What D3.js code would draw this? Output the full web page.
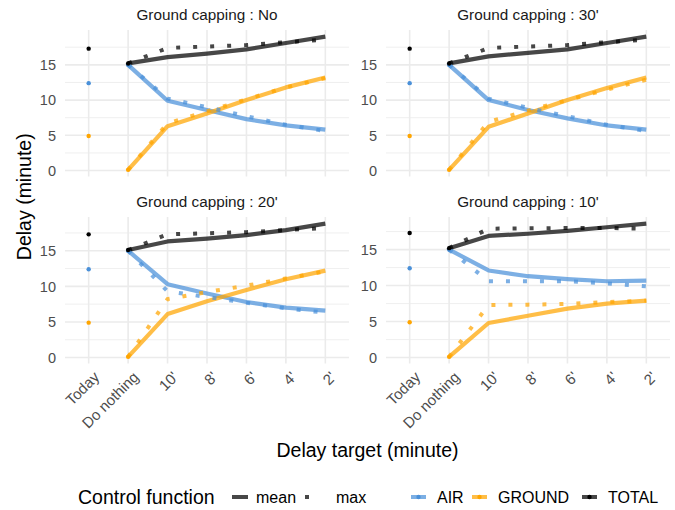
<!DOCTYPE html>
<html>
<head>
<meta charset="utf-8">
<script src="https://cdn.jsdelivr.net/npm/d3@7"></script>
<style>
  body { margin: 0; background: #fff; }
  svg { font-family: "Liberation Sans", Arial, sans-serif; }
</style>
</head>
<body>
<svg id="chart" width="675" height="510"></svg>
<script>
// categories and facets
const categories = ["Today", "Do nothing", "10'", "8'", "6'", "4'", "2'"];
const targets = ["Do nothing", "10'", "8'", "6'", "4'", "2'"];
const panels = ["No", "30'", "20'", "10'"];
const series = ["AIR", "GROUND", "TOTAL"];
const seriesColors = ["#4a90d9", "#ffa500", "#000000"];

// reference points (same for every panel): AIR, GROUND, TOTAL
const todayValues = [12.4, 4.9, 17.3];

// mean of the control function, values along targets
const airMean = {
  "No":  [15.0, 9.9, 8.6, 7.3, 6.4, 5.8],
  "30'": [15.0, 10.0, 8.6, 7.4, 6.4, 5.8],
  "20'": [15.0, 10.3, 9.0, 7.8, 7.0, 6.6],
  "10'": [15.0, 12.1, 11.3, 10.9, 10.6, 10.7]
};
const groundMean = {
  "No":  [0.1, 6.3, 8.1, 10.0, 11.8, 13.2],
  "30'": [0.1, 6.2, 8.1, 10.0, 11.7, 13.2],
  "20'": [0.1, 6.1, 7.9, 9.5, 11.0, 12.2],
  "10'": [0.1, 4.8, 5.8, 6.8, 7.5, 7.9]
};
const totalMean = {
  "No":  [15.2, 16.1, 16.6, 17.2, 18.1, 19.0],
  "30'": [15.2, 16.2, 16.7, 17.2, 18.1, 19.0],
  "20'": [15.1, 16.3, 16.7, 17.2, 17.9, 18.8],
  "10'": [15.2, 16.9, 17.2, 17.6, 18.1, 18.6]
};

// max of the control function
const airMax = {
  "No":  [15.0, 10.2, 9.0, 7.7, 6.5, 5.6],
  "30'": [15.0, 10.2, 8.9, 7.7, 6.5, 5.6],
  "20'": [15.0, 9.3, 8.5, 7.7, 6.9, 6.3],
  "10'": [15.0, 10.6, 10.6, 10.6, 10.3, 9.9]
};
const groundMax = {
  "No":  [0.1, 6.7, 8.4, 10.1, 11.8, 13.1],
  "30'": [0.1, 6.9, 8.5, 10.0, 11.5, 12.9],
  "20'": [0.1, 8.2, 9.2, 10.1, 11.1, 12.1],
  "10'": [0.1, 7.3, 7.35, 7.45, 7.7, 7.9]
};
const totalMax = {
  "No":  [15.2, 17.4, 17.6, 17.8, 18.2, 18.6],
  "30'": [15.2, 17.4, 17.6, 17.8, 18.2, 18.6],
  "20'": [15.1, 17.3, 17.45, 17.6, 17.9, 18.2],
  "10'": [15.2, 17.9, 17.95, 18.0, 18.0, 17.9]
};

const meanBySeries = [airMean, groundMean, totalMean];
const maxBySeries = [airMax, groundMax, totalMax];

const svg = d3.select("#chart");

// panel boxes
const colX = [65, 386];
const rowY = [30, 217];
const panelW = 284, panelH = 146.5;

const gridColor = "#ebebeb";

panels.forEach((p, pi) => {
  const px = colX[pi % 2], py = rowY[Math.floor(pi / 2)];
  const g = svg.append("g").attr("transform", `translate(${px},${py})`);

  const x = d3.scalePoint().domain(categories).range([0, panelW]).padding(0.6);

  // free y scale with 5% expansion
  let vals = todayValues.slice();
  series.forEach((s, si) => {
    vals = vals.concat(meanBySeries[si][p], maxBySeries[si][p]);
  });
  const lo = d3.min(vals), hi = d3.max(vals), r = hi - lo;
  const y = d3.scaleLinear().domain([lo - 0.05 * r, hi + 0.05 * r]).range([panelH, 0]);

  const major = y.ticks(5);
  const step = major[1] - major[0];
  const minor = [major[0] - step / 2].concat(major.map(t => t + step / 2))
    .filter(t => t > y.domain()[0] && t < y.domain()[1]);

  g.selectAll(".minor").data(minor).enter().append("line")
    .attr("x1", 0).attr("x2", panelW)
    .attr("y1", d => y(d)).attr("y2", d => y(d))
    .attr("stroke", gridColor).attr("stroke-width", 0.8);
  g.selectAll(".major").data(major).enter().append("line")
    .attr("x1", 0).attr("x2", panelW)
    .attr("y1", d => y(d)).attr("y2", d => y(d))
    .attr("stroke", gridColor).attr("stroke-width", 1.6);
  g.selectAll(".vgrid").data(categories).enter().append("line")
    .attr("x1", d => x(d)).attr("x2", d => x(d))
    .attr("y1", 0).attr("y2", panelH)
    .attr("stroke", gridColor).attr("stroke-width", 1.6);

  // y tick labels
  g.selectAll(".ylab").data(major).enter().append("text")
    .attr("x", -9).attr("y", d => y(d)).attr("dy", "0.36em")
    .attr("text-anchor", "end").attr("font-size", "14.5px").attr("fill", "#4d4d4d")
    .text(d => d);

  // strip title
  g.append("text")
    .attr("x", panelW / 2).attr("y", -10)
    .attr("text-anchor", "middle").attr("font-size", "15.3px").attr("fill", "#1a1a1a")
    .text(`Ground capping : ${p}`);

  const line = d3.line().x((d, i) => x(targets[i])).y(d => y(d));

  // mean lines
  series.forEach((s, si) => {
    g.append("path").datum(meanBySeries[si][p])
      .attr("d", line).attr("fill", "none")
      .attr("stroke", seriesColors[si]).attr("stroke-opacity", 0.72)
      .attr("stroke-width", 4.2).attr("stroke-linejoin", "round");
  });
  // max lines, dotted
  series.forEach((s, si) => {
    g.append("path").datum(maxBySeries[si][p])
      .attr("d", line).attr("fill", "none")
      .attr("stroke", seriesColors[si]).attr("stroke-opacity", 0.72)
      .attr("stroke-width", 4).attr("stroke-dasharray", "4 13");
  });
  // points for Today and Do nothing
  series.forEach((s, si) => {
    g.append("circle").attr("cx", x("Today")).attr("cy", y(todayValues[si]))
      .attr("r", 2.2).attr("fill", seriesColors[si]);
    g.append("circle").attr("cx", x("Do nothing")).attr("cy", y(meanBySeries[si][p][0]))
      .attr("r", 2.2).attr("fill", seriesColors[si]);
  });

  // x tick labels on bottom row only
  if (pi >= 2) {
    g.selectAll(".xlab").data(categories).enter().append("text")
      .attr("transform", d => `translate(${x(d) + 4},${panelH + 7}) rotate(-45)`)
      .attr("dy", "0.71em")
      .attr("text-anchor", "end").attr("font-size", "15px").attr("fill", "#4d4d4d")
      .text(d => d);
  }
});

// axis titles
const plotLeft = colX[0], plotRight = colX[1] + panelW;
svg.append("text")
  .attr("x", (plotLeft + plotRight) / 2).attr("y", 457)
  .attr("text-anchor", "middle").attr("font-size", "19.5px").attr("fill", "#000")
  .text("Delay target (minute)");
svg.append("text")
  .attr("transform", `translate(31,${(rowY[0] + rowY[1] + panelH) / 2}) rotate(-90)`)
  .attr("text-anchor", "middle").attr("font-size", "19.5px").attr("fill", "#000")
  .text("Delay (minute)");

// legend
const ly = 497;
const leg = svg.append("g");
leg.append("text").attr("x", 78).attr("y", ly).attr("dy", "0.36em")
  .attr("font-size", "19.5px").attr("fill", "#000").text("Control function");

const fnLabels = ["mean", "max"];
const fnKeyX = [232, 305];
fnLabels.forEach((f, i) => {
  const k = leg.append("g").attr("transform", `translate(${fnKeyX[i]},${ly})`);
  k.append("line").attr("x1", 0).attr("x2", 16).attr("y1", 0).attr("y2", 0)
    .attr("stroke", "#000").attr("stroke-opacity", 0.72).attr("stroke-width", 4)
    .attr("stroke-dasharray", i === 0 ? null : "4 13");
  k.append("text").attr("x", i === 0 ? 24 : 31).attr("dy", "0.36em")
    .attr("font-size", "16px").attr("fill", "#000").text(f);
});

const seriesKeyX = [411, 472, 582];
series.forEach((s, si) => {
  const k = leg.append("g").attr("transform", `translate(${seriesKeyX[si]},${ly})`);
  k.append("line").attr("x1", 0).attr("x2", 15).attr("y1", 0).attr("y2", 0)
    .attr("stroke", seriesColors[si]).attr("stroke-opacity", 0.72).attr("stroke-width", 4);
  k.append("circle").attr("cx", 7.5).attr("cy", 0).attr("r", 2.2).attr("fill", seriesColors[si]);
  k.append("text").attr("x", 26).attr("dy", "0.36em")
    .attr("font-size", "16px").attr("fill", "#000").text(s);
});
</script>
</body>
</html>
